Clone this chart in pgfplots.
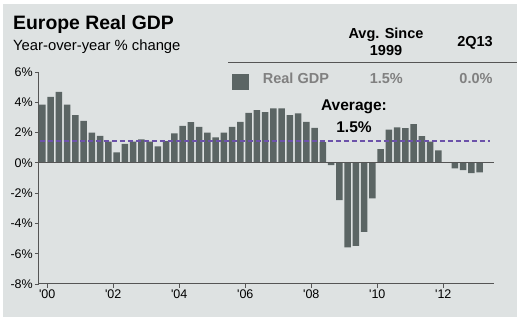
\documentclass[border=0pt]{standalone}
\usepackage{pgfplots}
\pgfplotsset{compat=1.18}
\usepackage{fontspec}
\setmainfont{Liberation Sans}
\definecolor{bg}{RGB}{222,226,226}
\definecolor{barc}{RGB}{91,101,100}
\definecolor{avgc}{RGB}{108,82,170}
\definecolor{axc}{RGB}{85,85,85}
\definecolor{legtxt}{RGB}{128,128,128}
\begin{document}
\begin{tikzpicture}[x=1pt,y=1pt]
\useasboundingbox (0,0) rectangle (519,321);
\fill[white] (0,0) rectangle (519,321);
\fill[bg] (3,4) rectangle (517,317);
% titles
\node[anchor=base west, inner sep=0pt, font=\fontsize{19.4}{22}\selectfont\bfseries] at (13,291) {Europe Real GDP};
\node[anchor=base west, inner sep=0pt, font=\fontsize{14.8}{17}\selectfont] at (13,270) {Year-over-year \% change};
% table header
\node[anchor=base, inner sep=0pt, font=\fontsize{14.5}{17}\selectfont\bfseries] at (386,282.7) {Avg. Since};
\node[anchor=base, inner sep=0pt, font=\fontsize{14.5}{17}\selectfont\bfseries] at (386,265.3) {1999};
\node[anchor=base, inner sep=0pt, font=\fontsize{14.5}{17}\selectfont\bfseries] at (475,274.3) {2Q13};
\draw[axc, line width=1pt] (228,258.3) -- (517,258.3);
\fill[barc] (232,231) rectangle (249,247);
\node[anchor=base west, inner sep=0pt, font=\fontsize{14.5}{17}\selectfont\bfseries, text=legtxt] at (262.7,237.7) {Real GDP};
\node[anchor=base, inner sep=0pt, font=\fontsize{14.5}{17}\selectfont\bfseries, text=legtxt] at (386.3,237.7) {1.5\%};
\node[anchor=base, inner sep=0pt, font=\fontsize{14.5}{17}\selectfont\bfseries, text=legtxt] at (476,237.7) {0.0\%};
\begin{axis}[
  at={(39pt,37pt)}, anchor=south west,
  scale only axis, width=455pt, height=212pt,
  xmin=-0.4, xmax=54.75, ymin=-8, ymax=6,
  axis lines*=left,
  axis line style={axc, line width=1pt},
  tick align=outside, major tick length=4pt,
  tick style={axc, line width=0.8pt},
  ytick={-8,-6,-4,-2,0,2,4,6},
  yticklabels={-8\%,-6\%,-4\%,-2\%,0\%,2\%,4\%,6\%},
  xtick={0.6,8.6,16.6,24.6,32.6,40.6,48.6},
  xticklabels={\textquotesingle00,\textquotesingle02,\textquotesingle04,\textquotesingle06,\textquotesingle08,\textquotesingle10,\textquotesingle12},
  ticklabel style={font=\fontsize{12.5}{14}\selectfont, inner sep=2pt},
  clip=false,
]
\addplot[ybar, bar width=6.6pt, fill=barc, draw=none] coordinates {
(0,3.85) (1,4.36) (2,4.69) (3,3.85) (4,3.15) (5,2.77) (6,2.0) (7,1.78) (8,1.41) (9,0.70)
(10,1.25) (11,1.41) (12,1.55) (13,1.41) (14,1.08) (15,1.43) (16,1.94) (17,2.44) (18,2.69) (19,2.38)
(20,2.0) (21,1.68) (22,2.0) (23,2.38) (24,2.71) (25,3.30) (26,3.48) (27,3.35) (28,3.59) (29,3.59)
(30,3.15) (31,3.26) (32,2.71) (33,2.31) (34,1.37) (35,-0.15) (36,-2.46) (37,-5.58) (38,-5.48) (39,-4.55)
(40,-2.35) (41,0.9) (42,2.2) (43,2.34) (44,2.29) (45,2.55) (46,1.76) (47,1.41) (48,0.82) (49,0.05)
(50,-0.37) (51,-0.48) (52,-0.68) (53,-0.63)
};
\addplot[avgc, line width=1.6pt, dash pattern=on 5pt off 3pt] coordinates {(-0.28,1.45) (54.3,1.45)};
\draw[axc, line width=1pt] (axis cs:-0.4,0) -- (axis cs:54.75,0);
\end{axis}
\node[anchor=base, inner sep=0pt, font=\fontsize{15.5}{18}\selectfont\bfseries] at (354,210.3) {Average:};
\node[anchor=base, inner sep=0pt, font=\fontsize{15.5}{18}\selectfont\bfseries] at (354,188.7) {1.5\%};
\end{tikzpicture}
\end{document}
